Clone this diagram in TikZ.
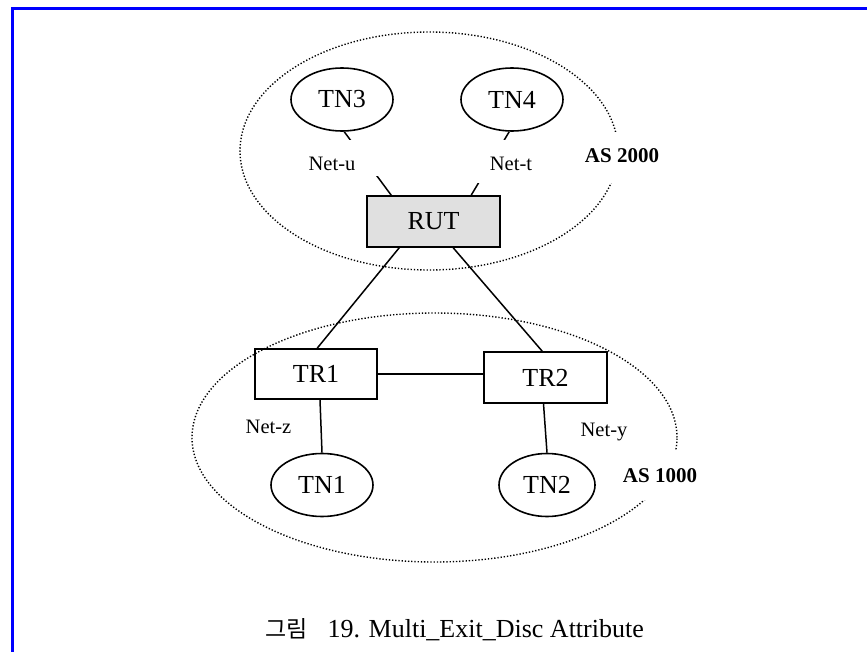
\documentclass[tikz,border=0pt]{standalone}
\usepackage{fontspec}
\setmainfont{Liberation Serif}
\newfontfamily\krfont{Noto Sans CJK KR}
\usetikzlibrary{shapes.geometric,calc}

\begin{document}
\begin{tikzpicture}[x=1pt,y=-1pt,
  wire/.style={line width=1.5pt},
  router/.style={draw,line width=1.6pt,rectangle,inner sep=0pt,
                 font=\fontsize{26}{30}\selectfont},
  host/.style={draw,line width=1.6pt,ellipse,inner sep=0pt,
               minimum width=102pt,minimum height=63pt,
               font=\fontsize{26}{30}\selectfont},
  netlabel/.style={inner sep=0pt,anchor=base,font=\fontsize{20.5}{24}\selectfont},
  aslabel/.style={inner sep=0pt,anchor=base,font=\fontsize{21}{25}\selectfont\bfseries},
  asregion/.style={line width=1.4pt,dash pattern=on 1.3pt off 1.9pt},
  mask/.style={fill=white}
]
\useasboundingbox (0,0) rectangle (867,652);
\fill[white] (0,0) rectangle (867,652);

% page frame (top and left rules)
\draw[blue,line width=3pt] (12.5,652) -- (12.5,9) -- (867,9);

% autonomous system boundaries
\draw[asregion] (429,151) ellipse [x radius=189pt, y radius=119pt];
\draw[asregion] (434.5,437.5) ellipse [x radius=242.5pt, y radius=124.5pt];

% routers and networks
\node[host] (tn3) at (342,99.5) {TN3};
\node[host] (tn4) at (512,99.5) {TN4};
\node[router,fill=black!12,minimum width=133pt,minimum height=51pt] (rut) at (433.5,221.5) {RUT};
\node[router,minimum width=122pt,minimum height=50pt] (tr1) at (316,374) {TR1};
\node[router,minimum width=123pt,minimum height=51pt] (tr2) at (545.5,377.5) {TR2};
\node[host] (tn1) at (322,485) {TN1};
\node[host,minimum width=96pt] (tn2) at (547,485) {TN2};

% links
\draw[wire] (tn3.-86) -- ([xshift=25pt]rut.north west);
\draw[wire] (tn4.-95) -- ([xshift=105pt]rut.north west);
\draw[wire] ([xshift=33pt]rut.south west) -- ([xshift=63pt]tr1.north west);
\draw[wire] ([xshift=87pt]rut.south west) -- ([xshift=59pt]tr2.north west);
\draw[wire] (tr1.east) -- (tr1.east -| tr2.west);
\draw[wire] ([xshift=4pt]tr1.south) -- (tn1.north);
\draw[wire] ([xshift=-2pt]tr2.south) -- (tn2.north);

% white backgrounds behind the labels
\fill[mask] (305,140) rectangle (383,176);
\fill[mask] (476,140) rectangle (545,183);
\fill[mask] (578,132) rectangle (668,183);
\fill[mask] (614,451) rectangle (705,500);

% labels
\node[netlabel] (netu) at (332,171) {Net-u};
\node[netlabel] (nett) at (511,171) {Net-t};
\node[netlabel] (netz) at (268.5,433) {Net-z};
\node[netlabel] (nety) at (604,436) {Net-y};
\node[aslabel] (as2000) at (622,163) {AS 2000};
\node[aslabel] (as1000) at (660,482) {AS 1000};

% caption
\node[anchor=base west,inner sep=0pt,font=\fontsize{26}{30}\selectfont] (caption) at (265,637)
  {{\krfont\fontsize{23}{28}\selectfont 그림}\hspace{20pt}19. Multi\_Exit\_Disc Attribute};
\end{tikzpicture}
\end{document}
